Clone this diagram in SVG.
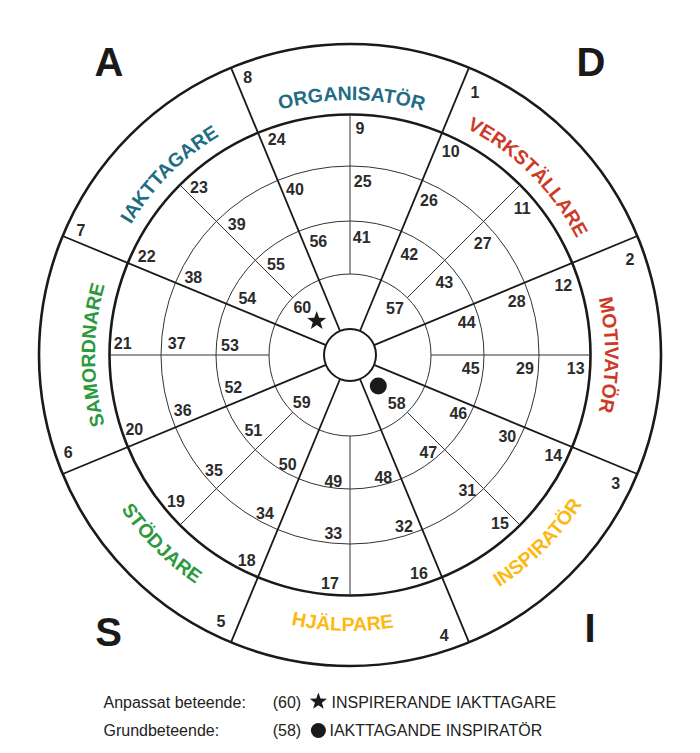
<svg xmlns="http://www.w3.org/2000/svg" xmlns:xlink="http://www.w3.org/1999/xlink" width="700" height="753" viewBox="0 0 700 753">
<style>
.thick{fill:none;stroke:#1a1a1a;stroke-width:2.6}
.spoke{fill:none;stroke:#1a1a1a;stroke-width:1.8}
.thin{fill:none;stroke:#333;stroke-width:1}
.num{font-family:"Liberation Sans",Arial,sans-serif;font-size:16px;font-weight:bold;fill:#2b2b2b;text-anchor:middle}
.big{font-family:"Liberation Sans",Arial,sans-serif;font-size:40px;font-weight:bold;fill:#1a1a1a;text-anchor:middle}
.lab{font-family:"Liberation Sans",Arial,sans-serif;font-size:19.5px;font-weight:bold;text-anchor:middle}
.leg{font-family:"Liberation Sans",Arial,sans-serif;font-size:16px;fill:#222}
.blue{fill:#1f6d85}.red{fill:#cd3b28}.yel{fill:#fdb913}.grn{fill:#2c9a3c}
</style>
<defs>
<path id="star" d="M0,-10 L2.4,-3.3 L9.511,-3.09 L3.9,1.27 L5.878,8.09 L0,4.1 L-5.878,8.09 L-3.9,1.27 L-9.511,-3.09 L-2.4,-3.3 Z" fill="#1a1a1a"/>
<path id="pOrg" d="M129.16,227.5 A255,255 0 0,1 570.84,227.5"/>
<path id="pVer" d="M284,108.7 A255,255 0 0,1 596.3,421"/>
<path id="pMot" d="M477.5,134.16 A255,255 0 0,1 477.5,575.84"/>
<path id="pSam" d="M222.5,575.84 A255,255 0 0,1 222.5,134.16"/>
<path id="pIak" d="M103.7,421 A255,255 0 0,1 416,108.7"/>
<path id="pHja" d="M110.98,493 A276,276 0 0,0 589.02,493"/>
<path id="pIns" d="M278.57,621.6 A276,276 0 0,0 616.6,283.57"/>
<path id="pSto" d="M83.4,283.57 A276,276 0 0,0 421.43,621.6"/>
</defs>
<rect width="700" height="753" fill="#fff"/>

<g id="rings">
<circle class="thick" cx="350" cy="355" r="311"/>
<circle class="thick" cx="350" cy="355" r="240.5"/>
<circle class="thin" cx="350" cy="355" r="189"/>
<circle class="thin" cx="350" cy="355" r="134"/>
<circle class="thin" cx="350" cy="355" r="81"/>
<circle fill="#fff" stroke="#1a1a1a" stroke-width="2" cx="350" cy="355" r="26"/>
</g>

<g id="connectors">
<g id="spokes-thick" class="spoke">
<line x1="359.95" y1="330.98" x2="469.01" y2="67.67"/>
<line x1="374.02" y1="345.05" x2="637.33" y2="235.99"/>
<line x1="374.02" y1="364.95" x2="637.33" y2="474.01"/>
<line x1="359.95" y1="379.02" x2="469.01" y2="642.33"/>
<line x1="340.05" y1="379.02" x2="230.99" y2="642.33"/>
<line x1="325.98" y1="364.95" x2="62.67" y2="474.01"/>
<line x1="325.98" y1="345.05" x2="62.67" y2="235.99"/>
<line x1="340.05" y1="330.98" x2="230.99" y2="67.67"/>
</g>
<g id="spokes-thin" class="thin">
<line x1="350" y1="274" x2="350" y2="114.5"/>
<line x1="407.28" y1="297.72" x2="520" y2="185"/>
<line x1="431" y1="355" x2="590.5" y2="355"/>
<line x1="407.28" y1="412.28" x2="520" y2="525"/>
<line x1="350" y1="436" x2="350" y2="595.5"/>
<line x1="292.72" y1="412.28" x2="180" y2="525"/>
<line x1="269" y1="355" x2="109.5" y2="355"/>
<line x1="292.72" y1="297.72" x2="180" y2="185"/>
</g>
</g>

<g id="corner-letters">
<text class="big" x="109" y="76">A</text>
<text class="big" x="591" y="76">D</text>
<text class="big" x="108.5" y="646">S</text>
<text class="big" x="590" y="641.5">I</text>
</g>

<g id="style-labels" class="lab">
<text id="organisator" class="blue"><textPath xlink:href="#pOrg" href="#pOrg" startOffset="50.3%">ORGANISATÖR</textPath></text>
<text id="verkstallare" class="red"><textPath xlink:href="#pVer" href="#pVer" startOffset="50%">VERKSTÄLLARE</textPath></text>
<text id="motivator" class="red"><textPath xlink:href="#pMot" href="#pMot" startOffset="50%">MOTIVATÖR</textPath></text>
<text id="inspirator" class="yel"><textPath xlink:href="#pIns" href="#pIns" startOffset="50%">INSPIRATÖR</textPath></text>
<text id="hjalpare" class="yel"><textPath xlink:href="#pHja" href="#pHja" startOffset="48.7%">HJÄLPARE</textPath></text>
<text id="stodjare" class="grn"><textPath xlink:href="#pSto" href="#pSto" startOffset="50%">STÖDJARE</textPath></text>
<text id="samordnare" class="grn"><textPath xlink:href="#pSam" href="#pSam" startOffset="50%">SAMORDNARE</textPath></text>
<text id="iakttagare" class="blue"><textPath xlink:href="#pIak" href="#pIak" startOffset="50%">IAKTTAGARE</textPath></text>
</g>

<g id="numbers" class="num">
<text x="475" y="97.5">1</text>
<text x="630" y="265">2</text>
<text x="615.7" y="488.5">3</text>
<text x="444.3" y="641">4</text>
<text x="221" y="627">5</text>
<text x="68.3" y="457.5">6</text>
<text x="81" y="236">7</text>
<text x="247.7" y="82.5">8</text>
<text x="360" y="133.5">9</text>
<text x="450.7" y="157">10</text>
<text x="522.3" y="214">11</text>
<text x="563.3" y="291">12</text>
<text x="575.7" y="374">13</text>
<text x="553.3" y="461">14</text>
<text x="500" y="528.5">15</text>
<text x="419" y="579">16</text>
<text x="330" y="588.5">17</text>
<text x="246.7" y="566">18</text>
<text x="176" y="506.5">19</text>
<text x="134.3" y="435">20</text>
<text x="122.7" y="349">21</text>
<text x="146.7" y="262">22</text>
<text x="199" y="192.5">23</text>
<text x="276.7" y="145">24</text>
<text x="362.7" y="187">25</text>
<text x="429" y="206">26</text>
<text x="482.7" y="249">27</text>
<text x="516.7" y="306.5">28</text>
<text x="525" y="374">29</text>
<text x="507.3" y="442">30</text>
<text x="467.3" y="496">31</text>
<text x="404" y="531.5">32</text>
<text x="333.3" y="539">33</text>
<text x="265" y="518.5">34</text>
<text x="214" y="475.5">35</text>
<text x="182.7" y="416">36</text>
<text x="176.7" y="349">37</text>
<text x="193.3" y="282.5">38</text>
<text x="236.7" y="230">39</text>
<text x="295" y="195">40</text>
<text x="361.7" y="242.5">41</text>
<text x="409.3" y="260">42</text>
<text x="444.3" y="288">43</text>
<text x="466.7" y="327.5">44</text>
<text x="470.7" y="374">45</text>
<text x="458.3" y="419">46</text>
<text x="428.3" y="457.5">47</text>
<text x="383.3" y="482.5">48</text>
<text x="333.3" y="487">49</text>
<text x="287.7" y="470">50</text>
<text x="253.3" y="436">51</text>
<text x="233.3" y="393">52</text>
<text x="230" y="351">53</text>
<text x="247.3" y="304">54</text>
<text x="276" y="270">55</text>
<text x="318.3" y="247">56</text>
<text x="395" y="314">57</text>
<text x="396.7" y="409">58</text>
<text x="301.7" y="408">59</text>
<text x="302.3" y="313">60</text>
</g>

<g id="markers">
<use xlink:href="#star" href="#star" x="316.7" y="321"/>
<circle cx="378.3" cy="386" r="8.5" fill="#1a1a1a"/>
</g>

<g id="legend" class="leg">
<text x="103.5" y="707.5">Anpassat beteende:</text>
<text x="272.7" y="707.5">(60)</text>
<use xlink:href="#star" href="#star" transform="translate(318.4,701.5) scale(0.9)"/>
<text x="331.5" y="707.5">INSPIRERANDE IAKTTAGARE</text>
<text x="103.5" y="736">Grundbeteende:</text>
<text x="272.7" y="736">(58)</text>
<circle cx="318.4" cy="730.5" r="7.5" fill="#1a1a1a"/>
<text x="329.5" y="736">IAKTTAGANDE INSPIRATÖR</text>
</g>
</svg>
